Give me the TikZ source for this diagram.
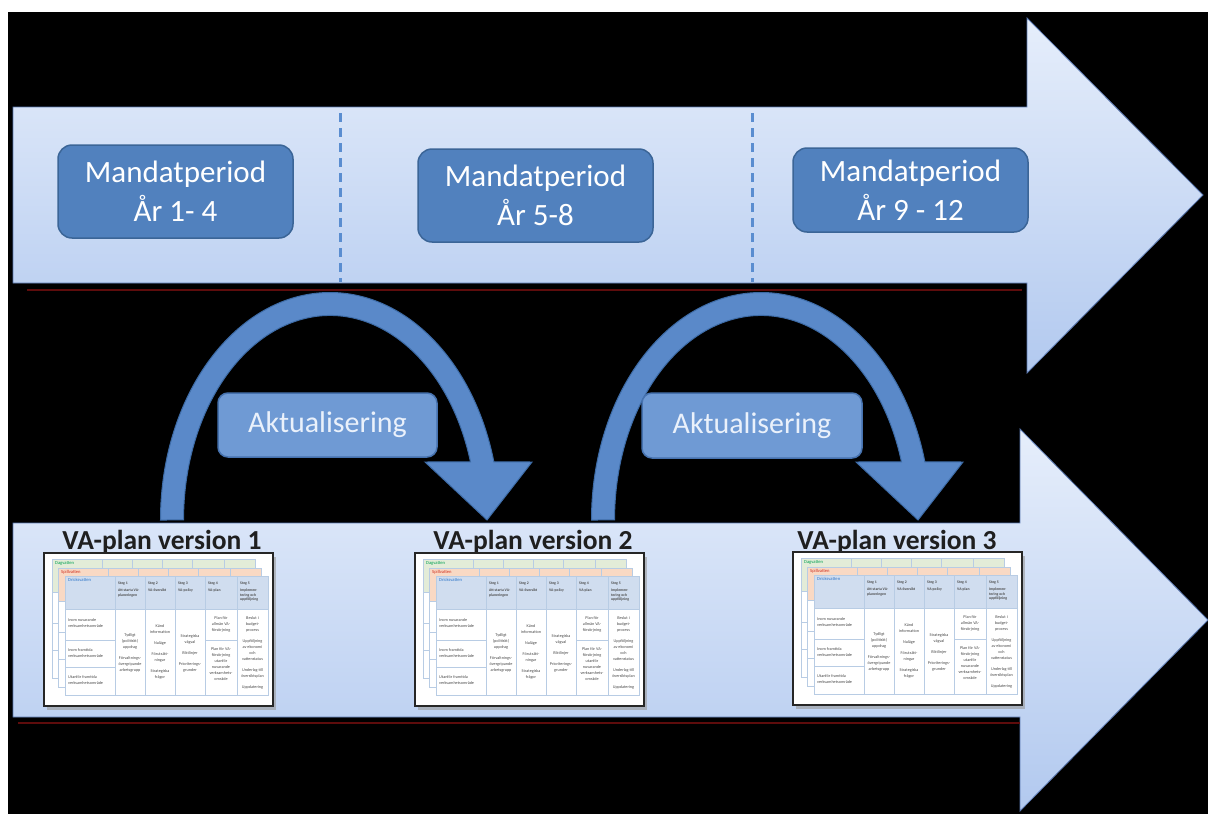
\documentclass[tikz,border=0pt]{standalone}
\usepackage{fontspec}
\setmainfont{Carlito}
\definecolor{arrtop}{HTML}{E6EEFB}
\definecolor{arrbot}{HTML}{B2C9EF}
\definecolor{arrline}{HTML}{5A78B0}
\definecolor{boxfill}{HTML}{5181BE}
\definecolor{boxline}{HTML}{3B6597}
\definecolor{aktfill}{HTML}{6F9AD4}
\definecolor{aktline}{HTML}{4672AF}
\definecolor{akttext}{HTML}{EAF1FB}
\definecolor{curvfill}{HTML}{5A89C9}
\definecolor{curvline}{HTML}{3D6BA6}
\definecolor{dashc}{HTML}{5A8DD0}
\definecolor{redline}{HTML}{5E0C0C}
\definecolor{gridc}{HTML}{B8CCE4}
\definecolor{dagc}{HTML}{E3ECD8}
\definecolor{dagt}{HTML}{00A050}
\definecolor{spillc}{HTML}{F9D9C4}
\definecolor{spillt}{HTML}{D03020}
\definecolor{drickc}{HTML}{D0DDEF}
\definecolor{drickt}{HTML}{2E75C8}
\tikzset{
  mbox/.style={rounded corners=14pt, fill=boxfill, draw=boxline, line width=1.5pt,
    text=white, font=\fontsize{31}{39}\selectfont, align=center, inner sep=0pt},
  akt/.style={rounded corners=10pt, fill=aktfill, draw=aktline, line width=1.5pt,
    text=akttext, font=\fontsize{30}{36}\selectfont, inner sep=0pt},
  vatext/.style={font=\bfseries\fontsize{27.5}{31}\selectfont, text=black!88, inner sep=0pt},
  dashline/.style={dashc, line width=3pt, dash pattern=on 9pt off 6pt},
  bigarrow/.style={top color=arrtop, bottom color=arrbot, draw=arrline, line width=0.8pt},
  curvarrow/.style={fill=curvfill, draw=curvline, line width=1pt},
  artline/.style={redline, line width=1.2pt},
  grid/.style={gridc, line width=0.5pt},
  ttitle/.style={anchor=north west, inner sep=0pt, font=\fontsize{4.6}{5}\selectfont},
  hdr/.style={anchor=north west, inner sep=0pt, font=\bfseries\fontsize{3.8}{4.4}\selectfont, text=black!70, align=left},
  cell/.style={inner sep=0pt, font=\fontsize{4.2}{6}\selectfont, text=black!70, align=center},
  rowlab/.style={anchor=west, inner sep=0pt, font=\fontsize{4.2}{5.4}\selectfont, text=black!70, align=left},
}
\newcommand{\vatable}[4]{%
  \fill[white] (0,0) rectangle (203,119);
  \fill[#1] (0,0) rectangle (203,33);
  \draw[grid] (0,0) rectangle (203,119);
  \foreach \cx in {50,80,110,140,172} {\draw[grid] (\cx,0) -- (\cx,119);}
  \draw[grid] (0,33) -- (203,33) (0,64) -- (50,64) (0,91) -- (50,91) (140,64) -- (172,64);
  \node[ttitle, text=#2] (#4) at (3,2) {#3};
}
\newcommand{\vathumb}[2]{%
  \begin{scope}[shift={(#1)}]
    \fill[black!40, opacity=0.6] (3,4) rectangle (232,157);
    \fill[white] (0,0) rectangle (229,153);
    \begin{scope}[shift={(8,6)}]\vatable{dagc}{dagt}{Dagvatten}{#2dag}\end{scope}
    \begin{scope}[shift={(14,15)}]\vatable{spillc}{spillt}{Spillvatten}{#2spill}\end{scope}
    \begin{scope}[shift={(21,23)}]
      \vatable{drickc}{drickt}{Dricksvatten}{#2drick}
      \node[hdr] (#2s1) at (53,6) {Steg 1};
      \node[hdr] (#2s2) at (83,6) {Steg 2};
      \node[hdr] (#2s3) at (113,6) {Steg 3};
      \node[hdr] (#2s4) at (143,6) {Steg 4};
      \node[hdr] (#2s5) at (175,6) {Steg 5};
      \node[hdr] (#2h1) at (53,13) {Att starta VA-\\planeringen};
      \node[hdr] (#2h2) at (83,13) {VA-översikt};
      \node[hdr] (#2h3) at (113,13) {VA-policy};
      \node[hdr] (#2h4) at (143,13) {VA-plan};
      \node[hdr] (#2h5) at (175,13) {Implemen-\\tering och\\uppföljning};
      \node[rowlab] (#2r1) at (3,47) {Inom nuvarande\\verksamhetsområde};
      \node[rowlab] (#2r2) at (3,77) {Inom framtida\\verksamhetsområde};
      \node[rowlab] (#2r3) at (3,104) {Utanför framtida\\verksamhetsområde};
      \node[cell] (#2c1) at (65,77) {Tydligt\\(politiskt)\\uppdrag\\[5pt]Förvaltnings-\\övergripande\\arbetsgrupp};
      \node[cell] (#2c2) at (95,76) {Känd\\information\\[5pt]Nuläge\\[5pt]Förutsätt-\\ningar\\[5pt]Strategiska\\frågor};
      \node[cell] (#2c3) at (125,77) {Strategiska\\vägval\\[5pt]Riktlinjer\\[5pt]Prioriterings-\\grunder};
      \node[cell] (#2c4) at (156,48) {Plan för\\allmän VA-\\försörjning};
      \node[cell] (#2c5) at (156,88) {Plan för VA-\\försörjning\\utanför\\nuvarande\\verksamhets-\\område};
      \node[cell] (#2c6) at (187.5,77) {Beslut i\\budget-\\process\\[5pt]Uppföljning\\av ekonomi\\och\\vattenstatus\\[5pt]Underlag till\\översiktsplan\\[5pt]Uppdatering};
    \end{scope}
    \draw[black!85, line width=2pt] (0,0) rectangle (229,153);
  \end{scope}}
\newcommand{\curvedarrow}{%
  \path[curvarrow] (160.5,520)
    arc[start angle=180, end angle=345.2, x radius=169.5, y radius=227.5]
    -- (532,462) -- (487,520) -- (425,462) -- (470.5,461.9)
    arc[start angle=343.5, end angle=180, x radius=146.5, y radius=204.5]
    -- cycle;}
\begin{document}
\begin{tikzpicture}[x=1pt,y=-1pt]
\useasboundingbox (0,0) rectangle (1208,814);
\fill[white] (0,0) rectangle (1208,814);
\fill[black] (8,12) rectangle (1208,814);

% top time arrow
\shadedraw[bigarrow] (13,107) -- (1027,107) -- (1027,18) -- (1203,195)
  -- (1027,373) -- (1027,283) -- (13,283) -- cycle;
\draw[artline] (27,290) -- (1022,290);

% bottom arrow
\shadedraw[bigarrow] (13,523) -- (1020,523) -- (1020,429) -- (1208,620)
  -- (1020,811) -- (1020,717) -- (13,717) -- cycle;
\draw[artline] (18,723) -- (1020,723);

% dashed separators
\coordinate (d1a) at (340,113); \coordinate (d1b) at (340,282);
\coordinate (d2a) at (752,113); \coordinate (d2b) at (752,282);
\draw[dashline] (d1a) -- (d1b);
\draw[dashline] (d2a) -- (d2b);

% mandate periods
\node[mbox, minimum width=235pt, minimum height=93pt] (m1) at (175.5,191.5) {Mandatperiod\\År 1- 4};
\node[mbox, minimum width=235pt, minimum height=93pt] (m2) at (535.5,195.5) {Mandatperiod\\År 5-8};
\node[mbox, minimum width=235pt, minimum height=84pt] (m3) at (910.5,190) {Mandatperiod\\År 9 - 12};

% curved arrows
\curvedarrow
\begin{scope}[shift={(431,0)}]\curvedarrow\end{scope}

\node[akt, minimum width=219pt, minimum height=64pt] (a1) at (327.5,425) {Aktualisering};
\node[akt, minimum width=220pt, minimum height=65pt] (a2) at (752,425.5) {Aktualisering};

% VA-plan versions
\node[vatext, anchor=base] (v1) at (162,549) {VA-plan version 1};
\node[vatext, anchor=base] (v2) at (533,549) {VA-plan version 2};
\node[vatext, anchor=base] (v3) at (897,549) {VA-plan version 3};

\vathumb{44,553}{ta}
\vathumb{415,553}{tb}
\vathumb{793,552}{tc}
\end{tikzpicture}
\end{document}
